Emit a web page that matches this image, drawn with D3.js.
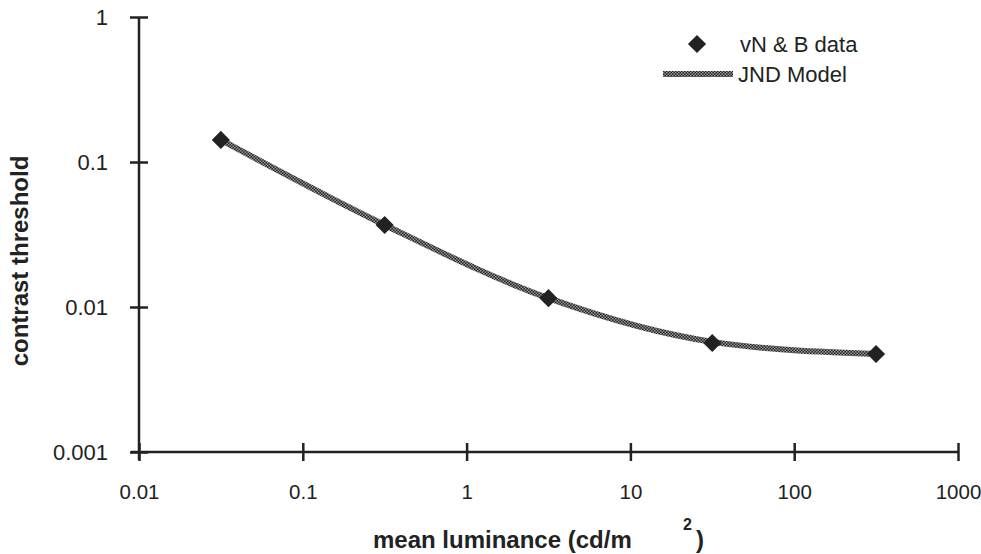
<!DOCTYPE html>
<html>
<head>
<meta charset="utf-8">
<script src="https://cdn.jsdelivr.net/npm/d3@7"></script>
<style>
  body { margin: 0; background: #fff; }
  svg { display: block; font-family: "Liberation Sans", Arial, sans-serif; }
</style>
</head>
<body>
<div id="chart"></div>
<script>
// data
const luminance = [0.0316, 0.316, 3.16, 31.6, 316];
const vnbThreshold = [0.142, 0.0368, 0.0115, 0.00565, 0.00474];
const jndModel = [0.142, 0.0368, 0.0115, 0.00575, 0.00474];
const xTicks = [0.01, 0.1, 1, 10, 100, 1000];
const yTicks = [0.001, 0.01, 0.1, 1];
const xTickLabels = ["0.01", "0.1", "1", "10", "100", "1000"];
const yTickLabels = ["0.001", "0.01", "0.1", "1"];

const width = 981;
const height = 554;

const svg = d3.select("#chart")
  .append("svg")
    .attr("width", width)
    .attr("height", height);

const x = d3.scaleLog().domain([0.01, 1000]).range([139, 958]);
const y = d3.scaleLog().domain([0.001, 1]).range([452, 17]);

// checkered pattern for the model line
const defs = svg.append("defs");
const pat = defs.append("pattern")
  .attr("id", "checker")
  .attr("patternUnits", "userSpaceOnUse")
  .attr("width", 3)
  .attr("height", 3);
pat.append("rect").attr("width", 3).attr("height", 3).attr("fill", "#222");
pat.append("rect").attr("width", 1.5).attr("height", 1.5).attr("fill", "#9a9a9a");
pat.append("rect").attr("x", 1.5).attr("y", 1.5).attr("width", 1.5).attr("height", 1.5).attr("fill", "#9a9a9a");

// axes
const xAxis = svg.append("g")
  .attr("transform", `translate(0,${y(0.001)})`)
  .call(d3.axisBottom(x).tickValues(xTicks).tickSize(0).tickFormat((d, i) => xTickLabels[i]));
xAxis.select(".domain").remove();
xAxis.append("line")
  .attr("x1", x(0.01) - 8).attr("x2", x(1000))
  .attr("stroke", "#222").attr("stroke-width", 2.5);
xAxis.selectAll(".tick").append("line")
  .attr("y1", -9).attr("y2", 9)
  .attr("stroke", "#222").attr("stroke-width", 2.5);
xAxis.selectAll(".tick text")
  .attr("y", 47)
  .attr("dy", 0)
  .attr("fill", "#222")
  .style("font-size", "20.5px");

const yAxis = svg.append("g")
  .attr("transform", `translate(${x(0.01)},0)`)
  .call(d3.axisLeft(y).tickValues(yTicks).tickSize(0).tickFormat((d, i) => yTickLabels[i]));
yAxis.select(".domain").remove();
yAxis.append("line")
  .attr("y1", y(1)).attr("y2", y(0.001) + 8)
  .attr("stroke", "#222").attr("stroke-width", 2.5);
yAxis.selectAll(".tick").append("line")
  .attr("x1", -9).attr("x2", 9)
  .attr("stroke", "#222").attr("stroke-width", 2.5);
yAxis.selectAll(".tick text")
  .attr("x", -31)
  .attr("fill", "#222")
  .style("font-size", "22px");

// axis titles
svg.append("text")
  .attr("transform", "translate(28,261) rotate(-90)")
  .attr("text-anchor", "middle")
  .attr("fill", "#222")
  .style("font-size", "24px")
  .style("font-weight", "bold")
  .text("contrast threshold");

svg.append("text")
  .attr("x", 373)
  .attr("y", 548)
  .attr("fill", "#222")
  .style("font-size", "24px")
  .style("font-weight", "bold")
  .text("mean luminance (cd/m");
svg.append("text")
  .attr("x", 683)
  .attr("y", 530)
  .attr("fill", "#222")
  .style("font-size", "16px")
  .style("font-weight", "bold")
  .text("2");
svg.append("text")
  .attr("x", 696)
  .attr("y", 548)
  .attr("fill", "#222")
  .style("font-size", "24px")
  .style("font-weight", "bold")
  .text(")");

// model line
const line = d3.line()
  .x((d, i) => x(luminance[i]))
  .y(d => y(d))
  .curve(d3.curveMonotoneX);

svg.append("path")
  .datum(jndModel)
  .attr("d", line)
  .attr("fill", "none")
  .attr("stroke", "url(#checker)")
  .attr("stroke-width", 6);

// data points
const diamond = d3.symbol().type(d3.symbolDiamond2).size(210);
svg.selectAll(".pt")
  .data(vnbThreshold)
  .join("path")
  .attr("class", "pt")
  .attr("d", diamond)
  .attr("transform", (d, i) => `translate(${x(luminance[i])},${y(d)})`)
  .attr("fill", "#222");

// legend
svg.append("path")
  .attr("d", diamond)
  .attr("transform", "translate(697,44)")
  .attr("fill", "#222");
svg.append("text")
  .attr("x", 740)
  .attr("y", 52)
  .attr("fill", "#222")
  .style("font-size", "22px")
  .text("vN & B data");

svg.append("rect")
  .attr("x", 663).attr("y", 71).attr("width", 70).attr("height", 6)
  .attr("fill", "url(#checker)");
svg.append("text")
  .attr("x", 738)
  .attr("y", 82)
  .attr("fill", "#222")
  .style("font-size", "22px")
  .text("JND Model");
</script>
</body>
</html>
